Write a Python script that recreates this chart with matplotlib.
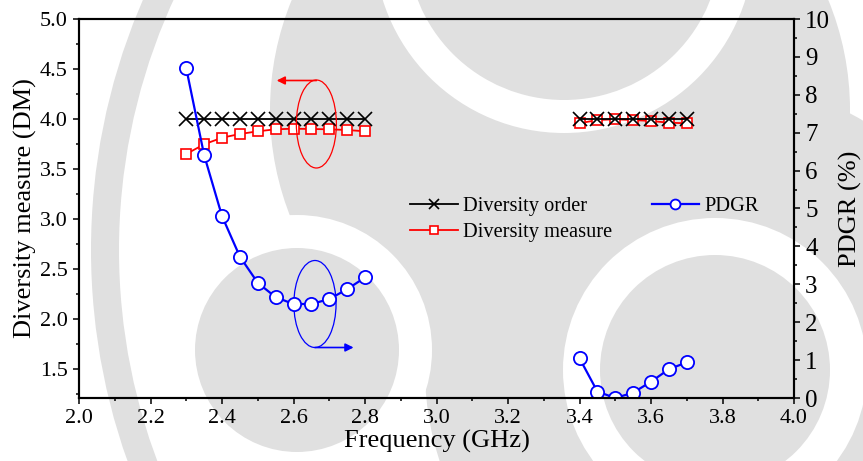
import matplotlib
matplotlib.use('Agg')
import matplotlib.pyplot as plt
from matplotlib.patches import Ellipse, Circle
from matplotlib.ticker import MultipleLocator, FormatStrFormatter

# ---------------- data ----------------
freq_low = [2.30, 2.35, 2.40, 2.45, 2.50, 2.55, 2.60, 2.65, 2.70, 2.75, 2.80]
freq_high = [3.40, 3.45, 3.50, 3.55, 3.60, 3.65, 3.70]
order_low = [4.0, 4.0, 4.0, 4.0, 4.0, 4.0, 4.0, 4.0, 4.0, 4.0, 4.0]
order_high = [4.0, 4.0, 4.0, 4.0, 4.0, 4.0, 4.0]
dm_low = [3.65, 3.747, 3.813, 3.85, 3.877, 3.897, 3.903, 3.90, 3.897, 3.89, 3.877]
dm_high = [3.957, 3.99, 3.997, 3.99, 3.98, 3.963, 3.957]
pdgr_low = [8.70, 6.41, 4.80, 3.73, 3.04, 2.66, 2.48, 2.48, 2.61, 2.87, 3.18]
pdgr_high = [1.05, 0.17, 0.00, 0.14, 0.43, 0.76, 0.94]

series_labels = ["Diversity order", "Diversity measure", "PDGR"]

plt.rcParams['font.family'] = ['Liberation Serif', 'DejaVu Serif']

W, H = 863, 461
fig = plt.figure(figsize=(W / 100, H / 100), dpi=100)

# ---------- background watermark (decorative, in figure pixels) ----------
bg = fig.add_axes([0, 0, 1, 1], zorder=-10)
bg.set_xlim(0, W)
bg.set_ylim(H, 0)
bg.axis('off')
grey = '#e0e0e0'
for c, r in [((560, 110), 290), ((715, 370), 290)]:
    bg.add_patch(Circle(c, r, color=grey, lw=0))
bg.add_patch(Circle((720, 250), 615, fill=False, ec=grey, lw=28 * 0.72))
for c, r in [((564, -57), 190), ((297, 350), 135), ((715, 370), 152)]:
    bg.add_patch(Circle(c, r, color='white', lw=0))
for c, r in [((564, -57), 157), ((297, 350), 102), ((715, 370), 115)]:
    bg.add_patch(Circle(c, r, color=grey, lw=0))

# ---------------- main axes ----------------
left, right, top, bottom = 79, 794, 19, 398
ax = fig.add_axes([left / W, (H - bottom) / H, (right - left) / W, (bottom - top) / H])
ax.set_facecolor('none')

l_order, = ax.plot(freq_low, order_low, color='black', lw=1.3, marker='x', ms=10,
                   mew=1.2, zorder=4, label=series_labels[0])
ax.plot(freq_high, order_high, color='black', lw=1.3, marker='x', ms=10, mew=1.2, zorder=4)
l_dm, = ax.plot(freq_low, dm_low, color='red', lw=1.3, marker='s', ms=7.5, mfc='white',
                mec='red', mew=1.2, zorder=3, label=series_labels[1])
ax.plot(freq_high, dm_high, color='red', lw=1.3, marker='s', ms=7.5, mfc='white',
        mec='red', mew=1.2, zorder=3)

ax.set_xlim(2.0, 4.0)
ax.set_ylim(1.21, 5.0)
ax.xaxis.set_major_locator(MultipleLocator(0.2))
ax.xaxis.set_minor_locator(MultipleLocator(0.1))
ax.yaxis.set_minor_locator(MultipleLocator(0.25))
ax.xaxis.set_major_formatter(FormatStrFormatter('%.1f'))
ax.yaxis.set_major_formatter(FormatStrFormatter('%.1f'))
ax.set_yticks([1.5, 2.0, 2.5, 3.0, 3.5, 4.0, 4.5, 5.0])
ax.tick_params(which='both', direction='out', top=False, right=False, width=1.1)
ax.tick_params(which='major', length=4.5, labelsize=16)
ax.tick_params(which='minor', length=2.5)
for s in ax.spines.values():
    s.set_linewidth(1.5)
ax.set_xlabel('Frequency (GHz)', fontsize=19, labelpad=1)
ax.set_ylabel('Diversity measure (DM)', fontsize=19, labelpad=2)

# annotations (left)
ax.add_patch(Ellipse((2.664, 3.95), 0.112, 0.88, fill=False, ec='red', lw=0.9, zorder=5))
ax.annotate('', xy=(2.553, 4.385), xytext=(2.664, 4.385),
            arrowprops=dict(arrowstyle='-|>', color='red', lw=1.2, mutation_scale=12,
                            shrinkA=0, shrinkB=0))
ax.add_patch(Ellipse((2.66, 2.15), 0.118, 0.87, fill=False, ec='blue', lw=0.9, zorder=5))
ax.annotate('', xy=(2.768, 1.715), xytext=(2.66, 1.715),
            arrowprops=dict(arrowstyle='-|>', color='blue', lw=1.2, mutation_scale=12,
                            shrinkA=0, shrinkB=0))

leg_top = (bottom - 197) / (bottom - top)
ax.legend(handles=[l_order, l_dm], loc='upper left',
          bbox_to_anchor=((410 - left) / (right - left), leg_top),
          frameon=False, fontsize=14.7, handlelength=2.35, handletextpad=0.25,
          labelspacing=0.3, borderpad=0, borderaxespad=0, markerscale=0.75)

# ---------------- twin axes ----------------
ax2 = ax.twinx()
ax2.set_facecolor('none')
l_pdgr, = ax2.plot(freq_low, pdgr_low, color='blue', lw=1.6, marker='o', ms=9.5,
                   mfc='white', mec='blue', mew=1.3, label=series_labels[2])
ax2.plot(freq_high, pdgr_high, color='blue', lw=1.6, marker='o', ms=9.5,
         mfc='white', mec='blue', mew=1.3)
ax2.set_ylim(0, 10)
ax2.yaxis.set_major_locator(MultipleLocator(1))
ax2.yaxis.set_minor_locator(MultipleLocator(0.5))
ax2.tick_params(which='both', direction='out', width=1.1)
ax2.tick_params(which='major', length=4.5, labelsize=18)
ax2.tick_params(which='minor', length=2.5)
for s in ax2.spines.values():
    s.set_linewidth(1.5)
ax2.set_ylabel('PDGR (%)', fontsize=19, labelpad=6)
ax2.legend(handles=[l_pdgr], loc='upper left',
           bbox_to_anchor=((652 - left) / (right - left), leg_top),
           frameon=False, fontsize=14.7, handlelength=2.3, handletextpad=0.25,
           borderpad=0, borderaxespad=0, markerscale=0.75)

fig.savefig('out.png', dpi=100)
